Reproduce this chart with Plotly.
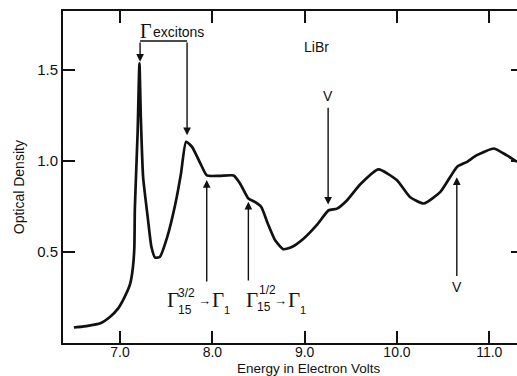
import plotly.graph_objects as go

# Data
energy = [6.50, 6.59, 6.68, 6.78, 6.89, 6.98, 7.05, 7.11, 7.14, 7.155, 7.16, 7.17, 7.19, 7.21,
          7.225, 7.25, 7.30, 7.34, 7.38, 7.43, 7.51, 7.60, 7.66, 7.715, 7.78, 7.87, 7.94,
          8.08, 8.23, 8.30, 8.39, 8.46, 8.53, 8.60, 8.68, 8.77, 8.86, 8.99, 9.13, 9.26,
          9.35, 9.46, 9.60, 9.80, 10.00, 10.14, 10.29, 10.47, 10.65, 10.76, 10.86, 11.05,
          11.19, 11.30]
optical_density = [0.085, 0.090, 0.097, 0.107, 0.143, 0.19, 0.253, 0.326, 0.418, 0.527, 0.73, 0.876,
                   1.15, 1.535, 1.24, 0.91, 0.69, 0.527, 0.469, 0.472, 0.58, 0.766, 0.93, 1.105,
                   1.077, 0.986, 0.92, 0.918, 0.92, 0.876, 0.793, 0.775, 0.747, 0.656, 0.564,
                   0.515, 0.527, 0.574, 0.647, 0.729, 0.738, 0.784, 0.87, 0.953, 0.894, 0.802,
                   0.766, 0.83, 0.967, 0.995, 1.03, 1.068, 1.03, 0.995]

x_ticks = [7.0, 8.0, 9.0, 10.0, 11.0]
x_tick_labels = ["7.0", "8.0", "9.0", "10.0", "11.0"]
y_ticks = [0.5, 1.0, 1.5]
y_tick_labels = ["0.5", "1.0", "1.5"]

X_RANGE = [6.382, 11.30]
Y_RANGE = [0.0, 1.823]

SANS = "Liberation Sans"
SERIF = "Liberation Serif"
INK = "#111111"

fig = go.Figure()
fig.add_trace(go.Scatter(x=energy, y=optical_density, mode="lines",
                         line=dict(color=INK, width=2.7, shape="spline", smoothing=0.5),
                         showlegend=False, hoverinfo="skip"))
# invisible trace so the right-side tick axis is rendered
fig.add_trace(go.Scatter(x=[X_RANGE[0]], y=[Y_RANGE[0]], yaxis="y2", mode="markers",
                         marker=dict(opacity=0), showlegend=False, hoverinfo="skip"))

fig.update_layout(
    width=517, height=376,
    margin=dict(l=63, r=0, t=11, b=33),
    paper_bgcolor="white", plot_bgcolor="white",
    font=dict(family=SANS, size=14, color=INK),
    xaxis=dict(range=X_RANGE, tickvals=x_ticks, ticktext=x_tick_labels,
               ticks="inside", ticklen=12, tickwidth=1.5, tickcolor=INK,
               showline=True, linewidth=2, linecolor=INK, mirror="ticks",
               showgrid=False, zeroline=False, tickfont=dict(size=14),
               ticklabelstandoff=-5),
    yaxis=dict(range=Y_RANGE, tickvals=y_ticks, ticktext=y_tick_labels,
               ticks="inside", ticklen=12, tickwidth=1.5, tickcolor=INK,
               showline=True, linewidth=2, linecolor=INK, mirror=False,
               showgrid=False, zeroline=False, tickfont=dict(size=15)),
    yaxis2=dict(range=Y_RANGE, overlaying="y", side="right", tickvals=y_ticks,
                ticks="inside", ticklen=6, tickwidth=1.5, tickcolor=INK,
                showticklabels=False, showline=False, showgrid=False, zeroline=False),
)

ann = []
def text(x, y, s, size=14, family=SANS, xanchor="center", yanchor="middle", **kw):
    ann.append(dict(x=x, y=y, xref="x", yref="y", text=s, showarrow=False,
                    font=dict(family=family, size=size, color=INK),
                    xanchor=xanchor, yanchor=yanchor, borderpad=0, **kw))

def arrow(x, y, ax, ay, head=2):
    ann.append(dict(x=x, y=y, ax=ax, ay=ay, xref="x", yref="y", axref="x", ayref="y",
                    text="", showarrow=True, arrowhead=head, arrowsize=1.1,
                    arrowwidth=1.4, arrowcolor=INK))

# Gamma excitons bracket
fig.add_shape(type="line", x0=7.217, x1=7.726, y0=1.658, y1=1.658,
              line=dict(color=INK, width=1.5))
arrow(7.217, 1.545, 7.217, 1.658)
arrow(7.726, 1.141, 7.726, 1.658)
text(7.21, 1.713, "Γ", size=20, family=SERIF, xanchor="left")
text(7.35, 1.708, "excitons", size=14, xanchor="left")

# LiBr
text(9.124, 1.625, "LiBr", size=14)

# V at 9.25
text(9.254, 1.355, "V", size=14)
arrow(9.254, 0.76, 9.254, 1.30)

# V at 10.65
arrow(10.648, 0.91, 10.648, 0.36)
text(10.648, 0.31, "V", size=14)

# Gamma 15 3/2 -> Gamma 1
arrow(7.939, 0.895, 7.939, 0.33)
text(7.495, 0.235, "Γ", size=21, family=SERIF, xanchor="left")
text(7.618, 0.276, "3/2", size=12, xanchor="left")
text(7.618, 0.182, "15", size=12, xanchor="left")
text(7.91, 0.232, "→", size=13)
text(7.983, 0.235, "Γ", size=21, family=SERIF, xanchor="left")
text(8.11, 0.180, "1", size=11, xanchor="left")

# Gamma 15 1/2 -> Gamma 1
arrow(8.39, 0.775, 8.39, 0.335)
text(8.354, 0.235, "Γ", size=21, family=SERIF, xanchor="left")
text(8.495, 0.290, "1/2", size=12, xanchor="left")
text(8.478, 0.195, "15", size=12, xanchor="left")
text(8.735, 0.236, "→", size=13)
text(8.81, 0.235, "Γ", size=21, family=SERIF, xanchor="left")
text(8.934, 0.180, "1", size=11, xanchor="left")

# Axis titles
ann.append(dict(x=-0.097, y=0.469, xref="paper", yref="paper", text="Optical Density",
                textangle=-90, showarrow=False, xanchor="center", yanchor="middle",
                font=dict(family=SANS, size=14, color=INK)))
ann.append(dict(x=0.542, y=-0.0765, xref="paper", yref="paper", text="Energy in Electron Volts",
                showarrow=False, xanchor="center", yanchor="middle", borderpad=0,
                font=dict(family=SANS, size=13.5, color=INK)))

fig.update_layout(annotations=ann)
fig.write_html("out.html", config={"displayModeBar": False},
               post_script="document.body.style.margin='0';document.body.style.overflow='hidden';")
